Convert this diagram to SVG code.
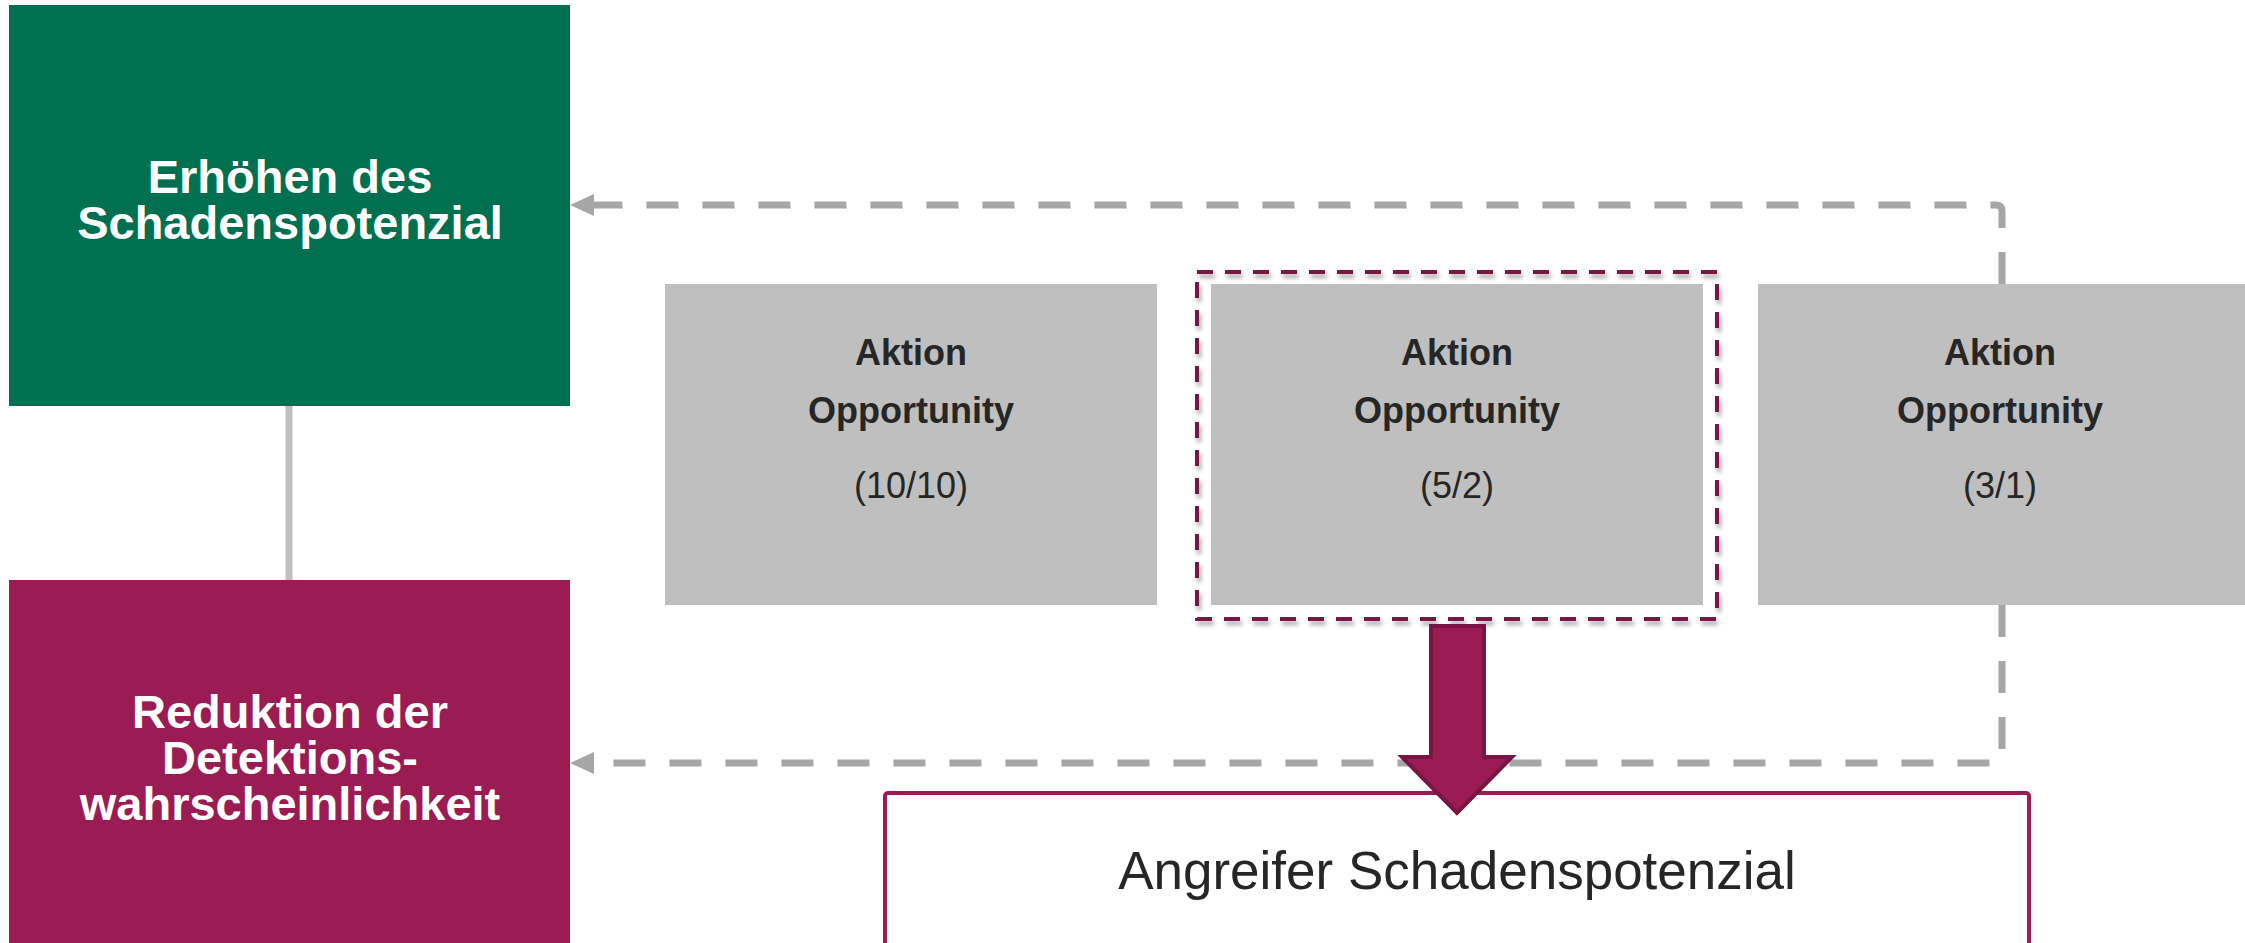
<svg xmlns="http://www.w3.org/2000/svg" width="2245" height="943" viewBox="0 0 2245 943">
  <style>
    .side { font-family: "Liberation Sans", Arial, sans-serif; font-weight: bold; font-size: 47px; fill: #ffffff; text-anchor: middle; }
    .act { fill: #bfbfbf; }
    .lbl { font-family: "Liberation Sans", Arial, sans-serif; font-size: 36px; fill: #262626; text-anchor: middle; }
    .lbl.b { font-weight: bold; }
    .flow { fill: none; stroke: #a6a6a6; stroke-width: 7; stroke-dasharray: 32 24; stroke-linejoin: round; }
    .main { font-family: "Liberation Sans", Arial, sans-serif; font-size: 53px; fill: #262626; text-anchor: middle; }
  </style>
  <defs>
    <marker id="grayHead" viewBox="0 0 24 22" refX="4" refY="11" markerWidth="24" markerHeight="22" markerUnits="userSpaceOnUse" orient="auto">
      <path d="M0,0 L24,11 L0,22 z" fill="#a6a6a6"/>
    </marker>
    <filter id="softShadow" x="-5%" y="-5%" width="110%" height="115%">
      <feDropShadow dx="2" dy="4" stdDeviation="2" flood-color="#000000" flood-opacity="0.35"/>
    </filter>
  </defs>

  <rect width="2245" height="943" fill="#ffffff"/>

  <!-- left column -->
  <g id="node-schaden">
    <rect x="9" y="5" width="561" height="401" fill="#007050"/>
    <text class="side" x="290" y="193">Erhöhen des<tspan x="290" dy="46">Schadenspotenzial</tspan></text>
  </g>
  <g id="node-detektion">
    <rect x="9" y="580" width="561" height="370" fill="#9b1b53"/>
    <text class="side" x="290" y="728">Reduktion der<tspan x="290" dy="46">Detektions-</tspan><tspan x="290" dy="46">wahrscheinlichkeit</tspan></text>
  </g>

  <!-- action cards -->
  <g id="node-aktion-1">
    <rect class="act" x="665" y="284" width="492" height="321"/>
    <text class="lbl b" x="911" y="365">Aktion</text>
    <text class="lbl b" x="911" y="423">Opportunity</text>
    <text class="lbl" x="911" y="498">(10/10)</text>
  </g>
  <g id="node-aktion-2">
    <rect x="1197" y="272" width="520" height="347" fill="none" stroke="#7a1444" stroke-width="4" stroke-dasharray="16 12" filter="url(#softShadow)"/>
    <rect class="act" x="1211" y="284" width="492" height="321"/>
    <text class="lbl b" x="1457" y="365">Aktion</text>
    <text class="lbl b" x="1457" y="423">Opportunity</text>
    <text class="lbl" x="1457" y="498">(5/2)</text>
  </g>
  <g id="node-aktion-3">
    <rect class="act" x="1758" y="284" width="492" height="321"/>
    <text class="lbl b" x="2000" y="365">Aktion</text>
    <text class="lbl b" x="2000" y="423">Opportunity</text>
    <text class="lbl" x="2000" y="498">(3/1)</text>
  </g>

  <!-- result box -->
  <g id="node-angreifer">
    <rect x="885" y="793" width="1144" height="200" rx="3" fill="#ffffff" stroke="#9b1b53" stroke-width="4"/>
    <text class="main" x="1457" y="889">Angreifer Schadenspotenzial</text>
  </g>

  <!-- connectors -->
  <g id="connectors">
    <line x1="289" y1="406" x2="289" y2="580" stroke="#bfbfbf" stroke-width="7"/>
    <path class="flow" d="M2002,284 V211 Q2002,205 1996,205 H590" marker-end="url(#grayHead)"/>
    <path class="flow" d="M2002,605 V757 Q2002,763 1996,763 H590" marker-end="url(#grayHead)"/>
    <polygon points="1431,626 1484,626 1484,757 1512,757 1457,813 1402,757 1431,757" fill="#9b1b53" stroke="#7a1444" stroke-width="4"/>
  </g>
</svg>
